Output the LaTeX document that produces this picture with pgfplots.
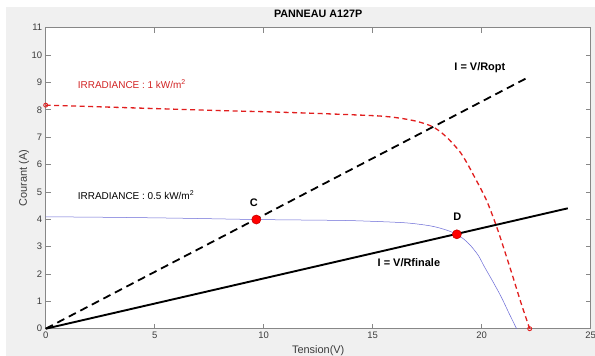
\documentclass[border=0pt]{standalone}
\usepackage{fontspec}
\setmainfont{Liberation Sans}
\usepackage{pgfplots}
\pgfplotsset{compat=1.18}
\definecolor{figgrey}{RGB}{240,240,240}
\definecolor{axgrey}{RGB}{135,135,135}
\definecolor{tickgrey}{RGB}{60,60,60}
\definecolor{mred}{RGB}{225,30,30}
\definecolor{tred}{RGB}{210,35,35}
\definecolor{mblue}{RGB}{105,105,215}
\definecolor{dotedge}{RGB}{200,0,0}
\begin{document}
\begin{tikzpicture}
\useasboundingbox (-45.7bp,-27.3bp) rectangle (549.3bp,328.7bp);
\clip (-45.7bp,-27.3bp) rectangle (549.3bp,328.7bp);
\fill[white] (-45.7bp,-27.3bp) rectangle (549.3bp,328.7bp);
\fill[figgrey] (-39.7bp,-27.3bp) rectangle (549.3bp,321.7bp);
\begin{axis}[
  at={(0,0)}, anchor=south west,
  scale only axis, width=545bp, height=301bp,
  xmin=0, xmax=25, ymin=0, ymax=11,
  xtick={0,5,...,25}, ytick={0,1,...,11},
  tick align=inside, major tick length=5bp,
  axis line style={axgrey, line width=0.6bp},
  every tick/.style={axgrey, line width=0.6bp},
  tick label style={font=\fontsize{9.5}{11}\selectfont, text=tickgrey},
  /pgf/number format/assume math mode=true,
  axis background/.style={fill=white},
  clip=false,
  title={\textbf{PANNEAU A127P}},
  title style={at={(axis description cs:0.5,1)}, anchor=base, yshift=4.7bp, inner sep=0pt, font=\fontsize{10.8}{12}\selectfont, text=black},
  xlabel={Tension(V)},
  xlabel style={at={(axis description cs:0.5,0)}, anchor=base, yshift=-24.8bp, inner sep=0pt, font=\fontsize{11}{13}\selectfont, text=tickgrey},
  ylabel={Courant (A)},
  every axis y label/.style={at={(axis description cs:-0.0398,0.5)}, rotate=90, anchor=center, inner sep=0pt, font=\fontsize{11}{13}\selectfont, text=tickgrey},
]
% I-V curve, 0.5 kW/m2
\addplot[mblue, line width=0.5bp, smooth] coordinates {
  (0,4.09) (3,4.07) (6,4.04) (9.66,3.99) (12,3.97) (14,3.95) (16.29,3.88)
  (17.2,3.81) (17.82,3.73) (18.4,3.60) (18.85,3.45) (19.2,3.26) (19.51,3.02)
  (19.85,2.67) (20.12,2.27) (20.5,1.74) (20.89,1.17) (21.25,0.57) (21.6,0.0)
};
% I-V curve, 1 kW/m2
\addplot[mred, line width=1.3bp, dash pattern=on 5bp off 3.5bp, smooth] coordinates {
  (0,8.17) (2,8.12) (4,8.07) (6,8.02) (8,7.97) (10,7.93) (12,7.88) (14,7.82)
  (15.37,7.77) (16.2,7.70) (16.9,7.60) (17.4,7.49) (17.75,7.38) (18.1,7.20)
  (18.44,6.96) (18.75,6.70) (19.05,6.41) (19.35,6.02) (19.66,5.56) (20.0,5.05)
  (20.28,4.58) (20.74,3.60) (21.35,2.10) (21.8,0.95) (22.2,0)
};
\addplot[mred, only marks, mark=o, mark size=2bp, mark options={line width=0.9bp, solid}] coordinates {(0,8.17) (22.2,0)};
% load lines
\addplot[black, line width=1.8bp, dash pattern=on 8bp off 5bp] coordinates {(0,0) (22.14,9.19)};
\addplot[black, line width=1.9bp] coordinates {(0,0) (23.95,4.40)};
% operating points
\addplot[only marks, mark=*, mark size=4.5bp, mark options={fill=red, draw=dotedge, line width=0.6bp}] coordinates {(9.66,3.99) (18.86,3.45)};
% annotations
\node[anchor=base west, inner sep=0pt, text=tred, font=\fontsize{10}{12}\selectfont] at (axis cs:1.47,8.79) {IRRADIANCE : 1 kW/m\textsuperscript{2}};
\node[anchor=base west, inner sep=0pt, text=black, font=\fontsize{10}{12}\selectfont] at (axis cs:1.47,4.73) {IRRADIANCE : 0.5 kW/m\textsuperscript{2}};
\node[anchor=base west, inner sep=0pt, font=\bfseries\fontsize{11}{13}\selectfont] at (axis cs:18.74,9.44) {I = V/Ropt};
\node[anchor=base west, inner sep=0pt, font=\bfseries\fontsize{11}{13}\selectfont] at (axis cs:15.22,2.255) {I = V/Rfinale};
\node[anchor=base, inner sep=0pt, font=\bfseries\fontsize{11}{13}\selectfont] at (axis cs:9.55,4.45) {C};
\node[anchor=base, inner sep=0pt, font=\bfseries\fontsize{11}{13}\selectfont] at (axis cs:18.88,3.96) {D};
\end{axis}
\end{tikzpicture}
\end{document}
